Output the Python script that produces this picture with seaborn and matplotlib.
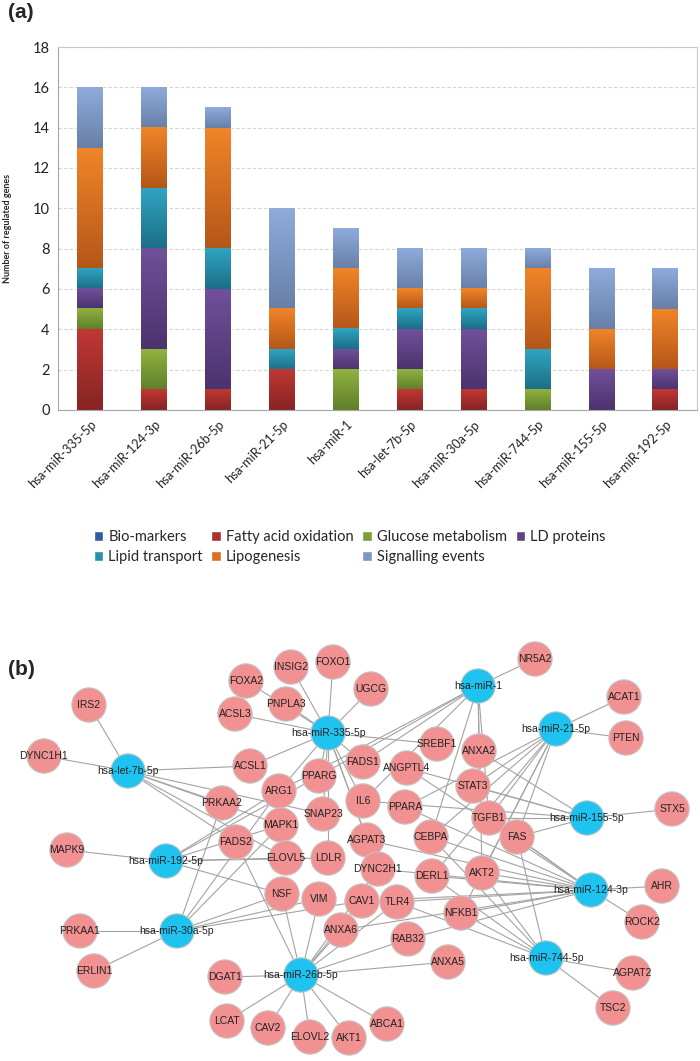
import numpy as np
import pandas as pd
import seaborn as sns
import matplotlib.pyplot as plt
from matplotlib.patches import Patch
from matplotlib.colors import LinearSegmentedColormap

# ---- (a) stacked bars: genes per category for each miRNA ----
mirnas = ["hsa-miR-335-5p", "hsa-miR-124-3p", "hsa-miR-26b-5p", "hsa-miR-21-5p", "hsa-miR-1",
          "hsa-let-7b-5p", "hsa-miR-30a-5p", "hsa-miR-744-5p", "hsa-miR-155-5p", "hsa-miR-192-5p"]
categories = ["Bio-markers", "Fatty acid oxidation", "Glucose metabolism", "LD proteins",
              "Lipid transport", "Lipogenesis", "Signalling events"]
bio_markers = [0, 0, 0, 0, 0, 0, 0, 0, 0, 0]
fatty_acid_oxidation = [4, 1, 1, 2, 0, 1, 1, 0, 0, 1]
glucose_metabolism = [1, 2, 0, 0, 2, 1, 0, 1, 0, 0]
ld_proteins = [1, 5, 5, 0, 1, 2, 3, 0, 2, 1]
lipid_transport = [1, 3, 2, 1, 1, 1, 1, 2, 0, 0]
lipogenesis = [6, 3, 6, 2, 3, 1, 1, 4, 2, 3]
signalling_events = [3, 2, 1, 5, 2, 2, 2, 1, 3, 2]

# mid / top (light) / bottom (dark) tones of the Excel gradient fills
colors = ["#2E5C9E", "#AA302C", "#7D9E36", "#5F4386", "#2890AC", "#DC701F", "#7C97C3"]
light = ["#3768AE", "#C03834", "#8FB23F", "#70509A", "#30A4C2", "#F08428", "#8FABDC"]
dark = ["#244A80", "#862424", "#607F2B", "#4B336E", "#1C6E86", "#B55619", "#6880A8"]

# ---- (b) network: miRNA -> target genes ----
targets = {
    "hsa-miR-335-5p": ["FOXA2", "INSIG2", "FOXO1", "PNPLA3", "ACSL3", "UGCG", "ACSL1", "SREBF1",
                       "FADS1", "PPARG", "ARG1", "SNAP23", "LDLR", "IL6", "AGPAT3", "DYNC2H1"],
    "hsa-miR-124-3p": ["AHR", "ROCK2", "FAS", "AKT2", "DERL1", "DYNC2H1", "TLR4", "CAV1", "NFKB1",
                       "CEBPA", "AGPAT3", "ANXA6", "RAB32", "PPARA", "TGFB1", "ANGPTL4"],
    "hsa-miR-26b-5p": ["DGAT1", "LCAT", "CAV2", "ELOVL2", "AKT1", "ABCA1", "ANXA6", "VIM", "NSF",
                       "FADS2", "CAV1", "TLR4", "RAB32", "ANXA5", "DYNC2H1"],
    "hsa-miR-21-5p": ["ACAT1", "PTEN", "STAT3", "PPARA", "TGFB1", "FAS", "CEBPA", "DERL1", "NFKB1", "AKT2"],
    "hsa-miR-1": ["NR5A2", "ANXA2", "FADS1", "PPARG", "ARG1", "IL6", "CEBPA", "TGFB1", "AKT2"],
    "hsa-let-7b-5p": ["IRS2", "DYNC1H1", "ACSL1", "PRKAA2", "SNAP23", "MAPK1", "FADS2", "ELOVL5"],
    "hsa-miR-30a-5p": ["PRKAA1", "ERLIN1", "PRKAA2", "ARG1", "MAPK1", "NSF", "VIM", "CAV1"],
    "hsa-miR-744-5p": ["AGPAT2", "TSC2", "NFKB1", "AKT2", "DERL1", "FAS", "CEBPA", "TLR4"],
    "hsa-miR-155-5p": ["STX5", "ANXA2", "ANGPTL4", "STAT3", "IL6", "TGFB1", "FAS"],
    "hsa-miR-192-5p": ["MAPK9", "ELOVL5", "LDLR", "NSF", "ARG1", "PPARG", "MAPK1"],
}

# node layout (pixel positions, as in the Cytoscape export)
layout = {
    "hsa-let-7b-5p": (128, 771), "hsa-miR-335-5p": (328, 733), "hsa-miR-1": (478, 686),
    "hsa-miR-21-5p": (556, 729), "hsa-miR-155-5p": (587, 818), "hsa-miR-192-5p": (166, 861),
    "hsa-miR-30a-5p": (177, 931), "hsa-miR-26b-5p": (301, 975), "hsa-miR-124-3p": (591, 890),
    "hsa-miR-744-5p": (546, 958),
    "IRS2": (89, 705), "DYNC1H1": (44, 756), "FOXA2": (246, 681), "INSIG2": (291, 667),
    "FOXO1": (333, 662), "PNPLA3": (286, 704), "ACSL3": (235, 714), "ACSL1": (250, 766),
    "PPARG": (319, 776), "ARG1": (279, 791), "PRKAA2": (222, 803), "SNAP23": (323, 814),
    "MAPK1": (281, 825), "NR5A2": (535, 659), "UGCG": (371, 689), "ACAT1": (624, 697),
    "PTEN": (626, 738), "SREBF1": (437, 744), "ANXA2": (479, 751), "FADS1": (363, 762),
    "ANGPTL4": (407, 768), "STAT3": (473, 786), "IL6": (363, 801), "PPARA": (405, 807),
    "TGFB1": (489, 818), "STX5": (672, 809), "MAPK9": (67, 850), "FADS2": (236, 842),
    "ELOVL5": (286, 858), "LDLR": (328, 858), "NSF": (282, 894), "VIM": (319, 899),
    "PRKAA1": (80, 931), "ERLIN1": (94, 971), "DGAT1": (225, 977), "LCAT": (227, 1021),
    "CAV2": (268, 1028), "ELOVL2": (310, 1037), "AKT1": (349, 1038), "ABCA1": (387, 1024),
    "ANXA6": (341, 930), "AGPAT3": (367, 840), "CEBPA": (431, 837), "FAS": (517, 837),
    "DYNC2H1": (378, 869), "DERL1": (432, 876), "AKT2": (482, 873), "AHR": (662, 886),
    "CAV1": (362, 901), "TLR4": (397, 902), "NFKB1": (461, 913), "ROCK2": (642, 922),
    "RAB32": (408, 939), "ANXA5": (448, 962), "AGPAT2": (633, 973), "TSC2": (613, 1008),
}

sns.set_style("white")
plt.rcParams["font.family"] = ["Lato", "DejaVu Sans"]

fig = plt.figure(figsize=(7, 10.61), dpi=100)

# network axes spans the whole figure in pixel units
ax_net = fig.add_axes([0, 0, 1, 1], zorder=0)
ax_net.patch.set_alpha(0)

for mir, genes in targets.items():
    x0, y0 = layout[mir]
    for g in genes:
        x1, y1 = layout[g]
        ax_net.plot([x0, x1], [y0, y1], color="#A3A3A3", lw=0.8, zorder=1)

nodes = pd.DataFrame({
    "name": list(layout.keys()),
    "x": [p[0] for p in layout.values()],
    "y": [p[1] for p in layout.values()],
})
nodes["kind"] = ["miRNA" if n in targets else "gene" for n in nodes["name"]]
sns.scatterplot(data=nodes, x="x", y="y", hue="kind",
                palette={"miRNA": "#1EC3F0", "gene": "#F29191"},
                s=610, edgecolor="#C4C4C4", linewidth=0.8, legend=False, ax=ax_net, zorder=2)
for _, r in nodes.iterrows():
    ax_net.text(r["x"], r["y"], r["name"], ha="center", va="center", fontsize=7.5,
                family=["Liberation Sans", "DejaVu Sans"], color="#222222", zorder=3)
ax_net.set_xlim(0, 700)
ax_net.set_ylim(1061, 0)
ax_net.axis("off")

# bar chart axes
ax = fig.add_axes([0.083, 0.6136, 0.913, 0.3421], zorder=2)
series = [bio_markers, fatty_acid_oxidation, glucose_metabolism, ld_proteins,
          lipid_transport, lipogenesis, signalling_events]
df = pd.DataFrame(dict(zip(categories, series)), index=mirnas)
cum = df.cumsum(axis=1)
for cat, col in reversed(list(zip(categories, colors))):
    sns.barplot(x=mirnas, y=cum[cat].values, color=col, saturation=1, width=0.4, ax=ax, zorder=2)

# vertical gradient on each visible segment (darker at the bottom)
grad = np.linspace(0, 1, 64).reshape(-1, 1)
n = len(mirnas)
for j, patch in enumerate(list(ax.patches)):
    k = len(categories) - 1 - j // n
    i = j % n
    top = cum.iloc[i, k]
    bottom = cum.iloc[i, k - 1] if k > 0 else 0
    if top - bottom <= 0:
        continue
    cmap = LinearSegmentedColormap.from_list("seg", [dark[k], light[k]])
    x = patch.get_x()
    ax.imshow(grad, extent=[x, x + patch.get_width(), bottom, top], origin="lower",
              cmap=cmap, aspect="auto", zorder=2.5, interpolation="bilinear")

ax.set_xlim(-0.5, len(mirnas) - 0.5)
ax.set_ylim(0, 18)
ax.set_yticks(range(0, 19, 2))
ax.yaxis.grid(True, ls=(0, (3, 2)), color="#D4D4D4", lw=0.8)
ax.set_axisbelow(True)
for s in ax.spines.values():
    s.set_color("#C8C8C8")
    s.set_linewidth(0.8)
ax.spines["left"].set_color("#A6A6A6")
ax.spines["bottom"].set_color("#A6A6A6")
ax.tick_params(axis="y", length=0, labelsize=10.5, pad=6, colors="#222222")
ax.tick_params(axis="x", which="major", length=0, labelsize=9, pad=6)
ax.set_xticks([i - 0.5 for i in range(11)], minor=True)
ax.tick_params(axis="x", which="minor", length=5, color="#A6A6A6", width=0.8)
plt.setp(ax.get_xticklabels(), rotation=45, ha="right", rotation_mode="anchor", color="#222222")
ax.set_xlabel("")
ax.set_ylabel("Number of regulated genes", fontsize=6.5, fontweight="bold")
ax.yaxis.set_label_coords(-0.072, 0.5)

# legend reads row by row like the Excel one (matplotlib fills by column)
order = [0, 4, 1, 5, 2, 6, 3]
handles = [Patch(facecolor=colors[k], label=categories[k]) for k in order]
fig.legend(handles=handles, ncol=4, loc="center left", bbox_to_anchor=(0.115, 0.4844),
           frameon=False, fontsize=10.5, handlelength=0.65, handleheight=0.65,
           handletextpad=0.35, columnspacing=0.6, labelspacing=0.45)

fig.text(0.012, 0.997, "(a)", fontsize=15, fontweight="bold", va="top", family=["Liberation Sans"])
fig.text(0.012, 0.378, "(b)", fontsize=15, fontweight="bold", va="top", family=["Liberation Sans"])

fig.savefig("out.png", dpi=100)
